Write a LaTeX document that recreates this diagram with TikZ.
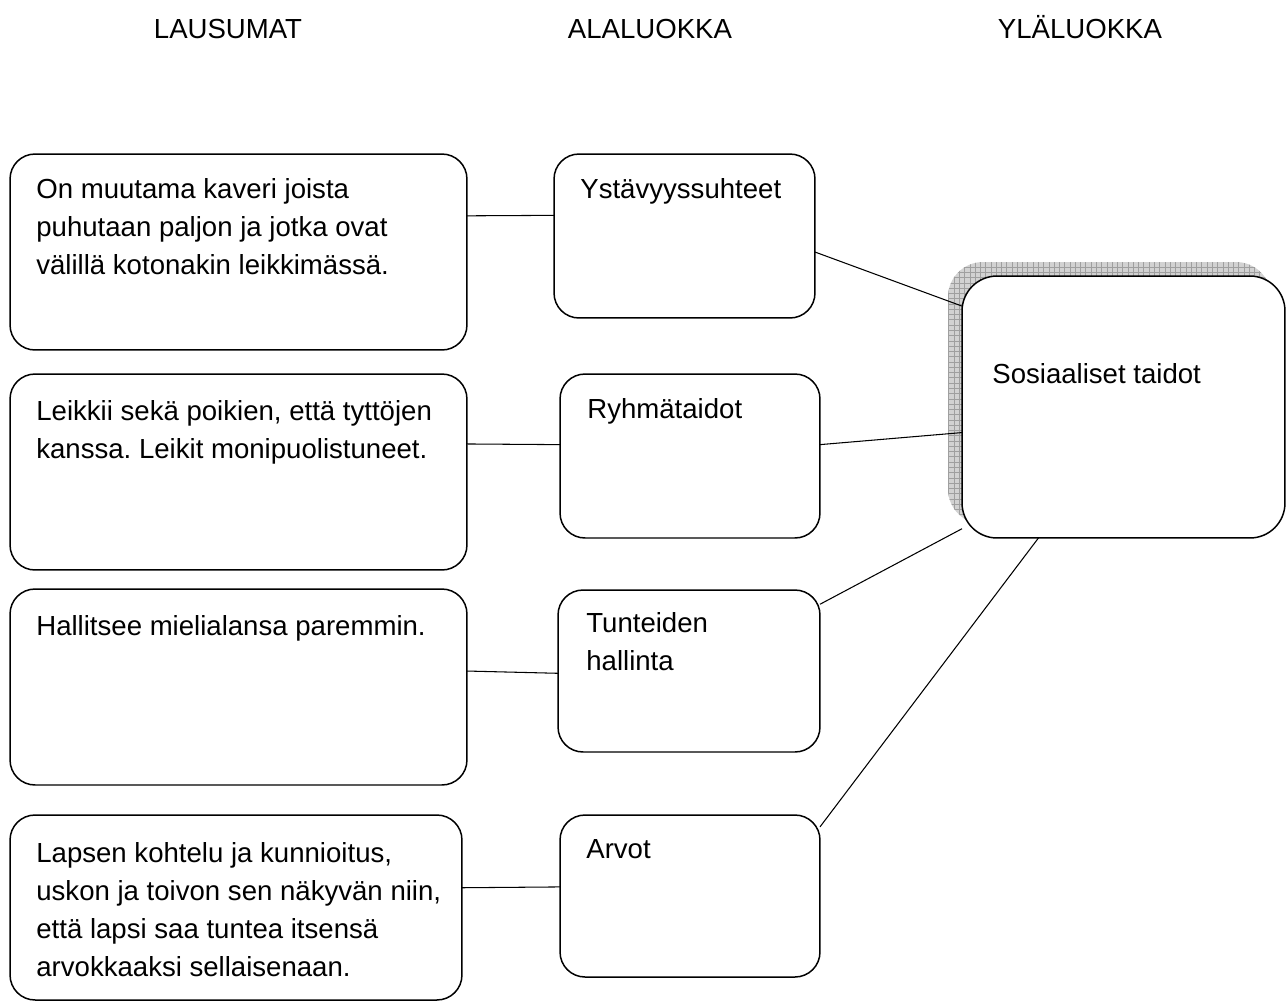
\documentclass[tikz,border=0pt]{standalone}
\usepackage{fontspec}
\setmainfont{Liberation Sans}
\frenchspacing
\usepackage{tikz}
\usetikzlibrary{patterns}
\tikzset{
    lbox/.style={rectangle, rounded corners=0.5cm, draw=black, line width=0.85pt, fill=white, outer sep=0pt},
    bigbox/.style={rectangle, rounded corners=0.7cm, draw=black, line width=0.85pt, fill=white, outer sep=0pt},
    txt/.style={anchor=base west, inner sep=0pt, align=left, font=\fontsize{15.7}{21.5}\selectfont},
    head/.style={anchor=base, inner sep=0pt, font=\fontsize{15.7}{21.5}\selectfont},
    yhd/.style={line width=0.6pt}
}

\begin{document}
\begin{tikzpicture}[x=0.02cm, y=-0.02cm]
    \useasboundingbox (0,0) rectangle (1287,1005);
    % otsikot
    \node[head] (h1) at (228,38) {LAUSUMAT};
    \node[head] (h2) at (650,38) {ALALUOKKA};
    \node[head] (h3) at (1080,38) {YLÄLUOKKA};

    % lausumat (tekstin paikka = viimeisen rivin perusviiva)
    \node[lbox, minimum width=9.14cm, minimum height=3.92cm] (l1) at (238.5,252) {};
    \node[lbox, minimum width=9.14cm, minimum height=3.92cm] (l2) at (238.5,472) {};
    \node[lbox, minimum width=9.14cm, minimum height=3.92cm] (l3) at (238.5,687) {};
    \node[lbox, minimum width=9.04cm, minimum height=3.70cm] (l4) at (236,907.5) {};
    \node[txt] (l1t) at (36,274)
      {On muutama kaveri joista\\puhutaan paljon ja jotka ovat\\välillä kotonakin leikkimässä.};
    \node[txt] (l2t) at (36,458)
      {Leikkii sekä poikien, että tyttöjen\\kanssa. Leikit monipuolistuneet.};
    \node[txt] (l3t) at (36,635) {Hallitsee mielialansa paremmin.};
    \node[txt] (l4t) at (36,976)
      {Lapsen kohtelu ja kunnioitus,\\uskon ja toivon sen näkyvän niin,\\että lapsi saa tuntea itsensä\\arvokkaaksi sellaisenaan.};

    % alaluokat
    \node[lbox, minimum width=5.22cm, minimum height=3.28cm] (m1) at (684.5,236) {};
    \node[lbox, minimum width=5.20cm, minimum height=3.28cm] (m2) at (690,456) {};
    \node[lbox, minimum width=5.24cm, minimum height=3.24cm] (m3) at (689,671) {};
    \node[lbox, minimum width=5.20cm, minimum height=3.24cm] (m4) at (690,896) {};
    \node[txt] (m1t) at (580,198) {Ystävyyssuhteet};
    \node[txt] (m2t) at (587,418) {Ryhmätaidot};
    \node[txt] (m3t) at (586,670) {Tunteiden\\hallinta};
    \node[txt] (m4t) at (586,858) {Arvot};

    % yläluokka varjoineen
    \fill[gray!35, rounded corners=0.7cm] (948,262) rectangle (1271,524);
    \fill[pattern=grid, pattern color=gray!75, rounded corners=0.7cm] (948,262) rectangle (1271,524);
    \node[bigbox, minimum width=6.46cm, minimum height=5.24cm] (r) at (1123.5,407) {};
    \node[txt] (rt) at (992,383) {Sosiaaliset taidot};

    % yhteydet
    \draw[yhd] (l1.9) -- (m1.171);
    \draw[yhd] (l2.7) -- (m2.175);
    \draw[yhd] (l3.4) -- (m3.181);
    \draw[yhd] (l4.5) -- (m4.176);
    \draw[yhd] (m1.-7) -- (r.148);
    \draw[yhd] (m2.5) -- (r.189);
    \draw[yhd] (m3.27) -- (r.217);
    \draw[yhd] (m4.28) -- (r.237);
\end{tikzpicture}
\end{document}
